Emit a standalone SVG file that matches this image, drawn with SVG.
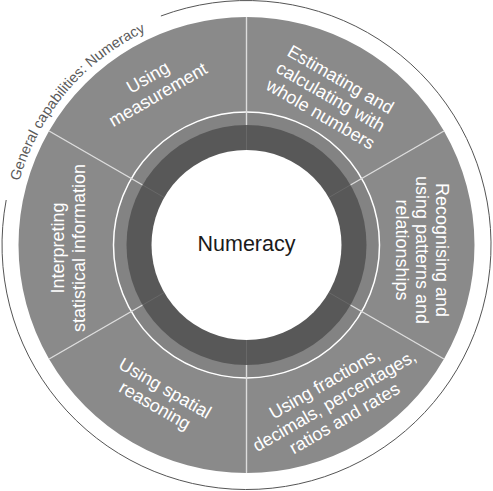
<svg xmlns="http://www.w3.org/2000/svg" width="493" height="491" viewBox="0 0 493 491">
<style>
  .seg { fill: #8a8a8a; }
  .lbl { font-family: "Liberation Sans", Arial, sans-serif; font-size: 18px; fill: #ffffff; text-anchor: middle; }
  .div { stroke: #dcdcdc; stroke-width: 1.4; fill: none; }
  .divin { stroke: #686868; stroke-width: 1; fill: none; }
  .cap { font-family: "Liberation Sans", Arial, sans-serif; font-size: 14.5px; fill: #5a5a5a; }
</style>
<defs>
  <path id="capPath" d="M14.2,203.2 A236,236 0 0 1 166.6,22.9"/>
</defs>
<rect width="493" height="491" fill="#ffffff"/>

<g id="frame">
  <path d="M160.9,16 A244.5,244.5 0 1 1 6.2,200" fill="none" stroke="#555555" stroke-width="1"/>
  <text class="cap" text-anchor="middle"><textPath href="#capPath" startOffset="50%">General capabilities: Numeracy</textPath></text>
</g>

<g id="core">
  <circle cx="246.5" cy="245" r="133" fill="#838383"/>
  <circle cx="246.5" cy="245" r="120" fill="#585858"/>
</g>

<g id="seg-measurement">
  <path class="seg" d="M49.05,131 A228,228 0 0 1 246.5,17 L246.5,112 A133,133 0 0 0 131.32,178.5 Z"/>
  <text class="lbl" transform="translate(153,86) rotate(-30)"><tspan x="0" y="-4">Using</tspan><tspan x="0" y="16">measurement</tspan></text>
</g>

<g id="seg-estimating">
  <path class="seg" d="M246.5,17 A228,228 0 0 1 443.95,131 L361.68,178.5 A133,133 0 0 0 246.5,112 Z"/>
  <text class="lbl" transform="translate(331,96) rotate(30)"><tspan x="0" y="-13">Estimating and</tspan><tspan x="0" y="7">calculating with</tspan><tspan x="0" y="27">whole numbers</tspan></text>
</g>

<g id="seg-patterns">
  <path class="seg" d="M443.95,131 A228,228 0 0 1 443.95,359 L361.68,311.5 A133,133 0 0 0 361.68,178.5 Z"/>
  <text class="lbl" transform="translate(423,250) rotate(90)"><tspan x="0" y="-13">Recognising and</tspan><tspan x="0" y="7">using patterns and</tspan><tspan x="0" y="27">relationships</tspan></text>
</g>

<g id="seg-fractions">
  <path class="seg" d="M443.95,359 A228,228 0 0 1 246.5,473 L246.5,378 A133,133 0 0 0 361.68,311.5 Z"/>
  <text class="lbl" transform="translate(334,400) rotate(-30)"><tspan x="0" y="-13">Using fractions,</tspan><tspan x="0" y="7">decimals, percentages,</tspan><tspan x="0" y="27">ratios and rates</tspan></text>
</g>

<g id="seg-spatial">
  <path class="seg" d="M246.5,473 A228,228 0 0 1 49.05,359 L131.32,311.5 A133,133 0 0 0 246.5,378 Z"/>
  <text class="lbl" transform="translate(160,397) rotate(30)"><tspan x="0" y="-4">Using spatial</tspan><tspan x="0" y="16">reasoning</tspan></text>
</g>

<g id="seg-statistics">
  <path class="seg" d="M49.05,359 A228,228 0 0 1 49.05,131 L131.32,178.5 A133,133 0 0 0 131.32,311.5 Z"/>
  <text class="lbl" transform="translate(68,248) rotate(-90)"><tspan x="0" y="-4">Interpreting</tspan><tspan x="0" y="16.5">statistical information</tspan></text>
</g>

<g id="connectors">
  <circle cx="246.5" cy="245" r="133" fill="none" stroke="#ffffff" stroke-width="1.5"/>
  <line class="div" x1="246.5" y1="17" x2="246.5" y2="125"/>
  <line class="div" x1="443.95" y1="131" x2="350.42" y2="185"/>
  <line class="div" x1="443.95" y1="359" x2="350.42" y2="305"/>
  <line class="div" x1="246.5" y1="473" x2="246.5" y2="365"/>
  <line class="div" x1="49.05" y1="359" x2="142.58" y2="305"/>
  <line class="div" x1="49.05" y1="131" x2="142.58" y2="185"/>
  <line class="divin" x1="246.5" y1="125" x2="246.5" y2="150"/>
  <line class="divin" x1="350.42" y1="185" x2="328.77" y2="197.5"/>
  <line class="divin" x1="350.42" y1="305" x2="328.77" y2="292.5"/>
  <line class="divin" x1="246.5" y1="365" x2="246.5" y2="340"/>
  <line class="divin" x1="142.58" y1="305" x2="164.23" y2="292.5"/>
  <line class="divin" x1="142.58" y1="185" x2="164.23" y2="197.5"/>
</g>

<g id="center">
  <circle cx="246.5" cy="245" r="95" fill="#ffffff"/>
  <text x="246.5" y="251" font-family="Liberation Sans, Arial, sans-serif" font-size="21.5" fill="#1a1a1a" text-anchor="middle">Numeracy</text>
</g>
</svg>
